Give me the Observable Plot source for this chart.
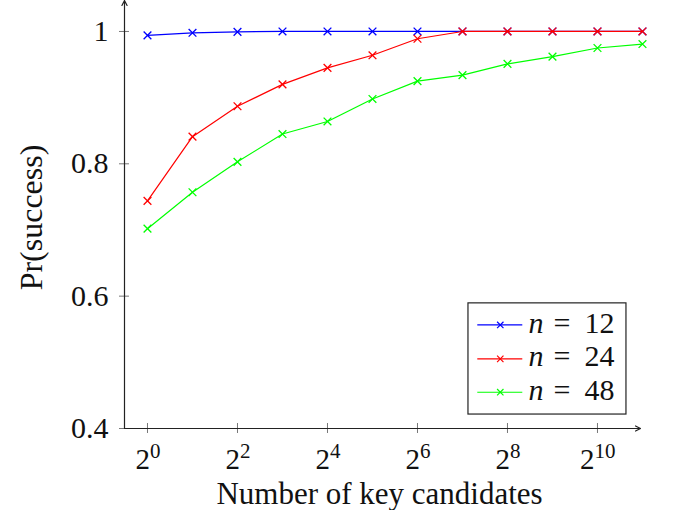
<!DOCTYPE html>
<html>
<head>
<meta charset="utf-8">
<script src="https://cdn.jsdelivr.net/npm/d3@7"></script>
<script src="https://cdn.jsdelivr.net/npm/@observablehq/plot@0.6"></script>
<style>
  html, body { margin: 0; padding: 0; background: #fff; }
  #chart svg { display: block; }
</style>
</head>
<body>
<div id="chart"></div>
<script>
// ---- data ----
const exponents = [0, 1, 2, 3, 4, 5, 6, 7, 8, 9, 10, 11];
const n12 = [0.994, 0.998, 0.9994, 1, 1, 1, 1, 1, 1, 1, 1, 1];
const n24 = [0.744, 0.841, 0.887, 0.920, 0.945, 0.964, 0.989, 1, 1, 1, 1, 1];
const n48 = [0.702, 0.757, 0.803, 0.845, 0.864, 0.898, 0.925, 0.934, 0.951, 0.962, 0.975, 0.981];
const seriesNames = ["12", "24", "48"];
const seriesColors = ["#0000ff", "#ff0000", "#00ff00"];
const xTicks = [0, 2, 4, 6, 8, 10];
const yTicks = [0.4, 0.6, 0.8, 1];
const xLabel = "Number of key candidates";
const yLabel = "Pr(success)";

const seriesValues = [n12, n24, n48];
const series = seriesNames.map((name, s) => ({
  name, color: seriesColors[s],
  rows: exponents.map((k, i) => ({k, v: seriesValues[s][i]}))
}));

// axis extents (data units)
const xMin = -0.511, xMax = 10.956;
const yMin = 0.4, yMax = 1.0468;
const pxX = 45;           // pixels per x unit (for small offsets)
const pxY = 662.5;        // pixels per y unit

// legend geometry in data units
const legend = {x1: 7.133, x2: 10.644, y1: 0.4211, y2: 0.5891,
  lineX1: 7.34, lineX2: 8.34, markX: 7.84, textX: 8.467,
  rowY: [0.5565, 0.5052, 0.4548]};
const legendRows = series.map((s, i) => ({name: s.name, color: s.color, y: legend.rowY[i]}));

const font = "'Liberation Serif', 'DejaVu Serif', serif";

const marks = [];
// ticks (crossing the axis lines)
marks.push(Plot.ruleY(yTicks, {y: d => d, x1: xMin - 5 / pxX, x2: xMin + 5 / pxX, stroke: "#777", strokeWidth: 1}));
marks.push(Plot.ruleX(xTicks, {x: d => d, y1: yMin - 5 / pxY, y2: yMin + 5 / pxY, stroke: "#777", strokeWidth: 1}));
// axis lines with arrows
marks.push(Plot.arrow([0], {x1: xMin, x2: xMin, y1: yMin, y2: yMax, stroke: "#222", strokeWidth: 1.2, headLength: 7, headAngle: 55}));
marks.push(Plot.arrow([0], {x1: xMin, x2: xMax, y1: yMin, y2: yMin, stroke: "#222", strokeWidth: 1.2, headLength: 7, headAngle: 55}));
// y tick labels
marks.push(Plot.axisY({ticks: yTicks, tickSize: 0, tickPadding: 16, fontSize: 30, label: null, anchor: "left", tickFormat: d => String(d)}));
// x tick labels: 2^k
const oneDigit = xTicks.filter(d => d < 10), twoDigit = xTicks.filter(d => d >= 10);
for (const [arr, dx] of [[oneDigit, 2.5], [twoDigit, -3]]) {
  marks.push(Plot.text(arr, {x: d => d, y: yMin, text: () => "2", textAnchor: "end", lineAnchor: "bottom", dx, dy: 40, fontSize: 29}));
  marks.push(Plot.text(arr, {x: d => d, y: yMin, text: d => String(d), textAnchor: "start", lineAnchor: "bottom", dx, dy: 29, fontSize: 21}));
}
// axis labels
marks.push(Plot.text([xLabel], {text: d => d, frameAnchor: "bottom", lineAnchor: "bottom", dx: -3, dy: 75, fontSize: 31}));
marks.push(Plot.text([yLabel], {text: d => d, frameAnchor: "left", rotate: -90, lineAnchor: "bottom", textAnchor: "middle", dx: -83, dy: 3, fontSize: 32}));
// series
for (const s of series) {
  marks.push(Plot.line(s.rows, {x: "k", y: "v", stroke: s.color, strokeWidth: 1.2}));
  marks.push(Plot.dot(s.rows, {x: "k", y: "v", symbol: "times", r: 3.6, stroke: s.color, strokeWidth: 1.3}));
}
// legend
marks.push(Plot.rect([0], {x1: legend.x1, x2: legend.x2, y1: legend.y1, y2: legend.y2, fill: "white", stroke: "#222", strokeWidth: 1.2}));
marks.push(Plot.ruleY(legendRows, {y: "y", x1: legend.lineX1, x2: legend.lineX2, stroke: "color", strokeWidth: 1.2}));
marks.push(Plot.dot(legendRows, {y: "y", x: legend.markX, symbol: "times", r: 3, stroke: "color", strokeWidth: 1.2}));
marks.push(Plot.text(legendRows, {y: "y", x: legend.textX, text: () => "n", fontStyle: "italic", textAnchor: "start", fontSize: 30, dy: -2}));
marks.push(Plot.text(legendRows, {y: "y", x: legend.textX, text: () => "=", textAnchor: "start", fontSize: 30, dx: 25, dy: -2}));
marks.push(Plot.text(legendRows, {y: "y", x: legend.textX, text: "name", textAnchor: "start", fontSize: 30, dx: 56, dy: -2}));

const chart = Plot.plot({
  width: 676, height: 510,
  marginLeft: 124, marginRight: 36, marginTop: 0, marginBottom: 82,
  style: {fontFamily: font, color: "#111", background: "white", overflow: "visible"},
  x: {domain: [xMin, xMax], axis: null},
  y: {domain: [yMin, yMax], axis: null},
  stroke: {type: "identity"},
  marks
});
document.getElementById("chart").appendChild(chart);
</script>
</body>
</html>
